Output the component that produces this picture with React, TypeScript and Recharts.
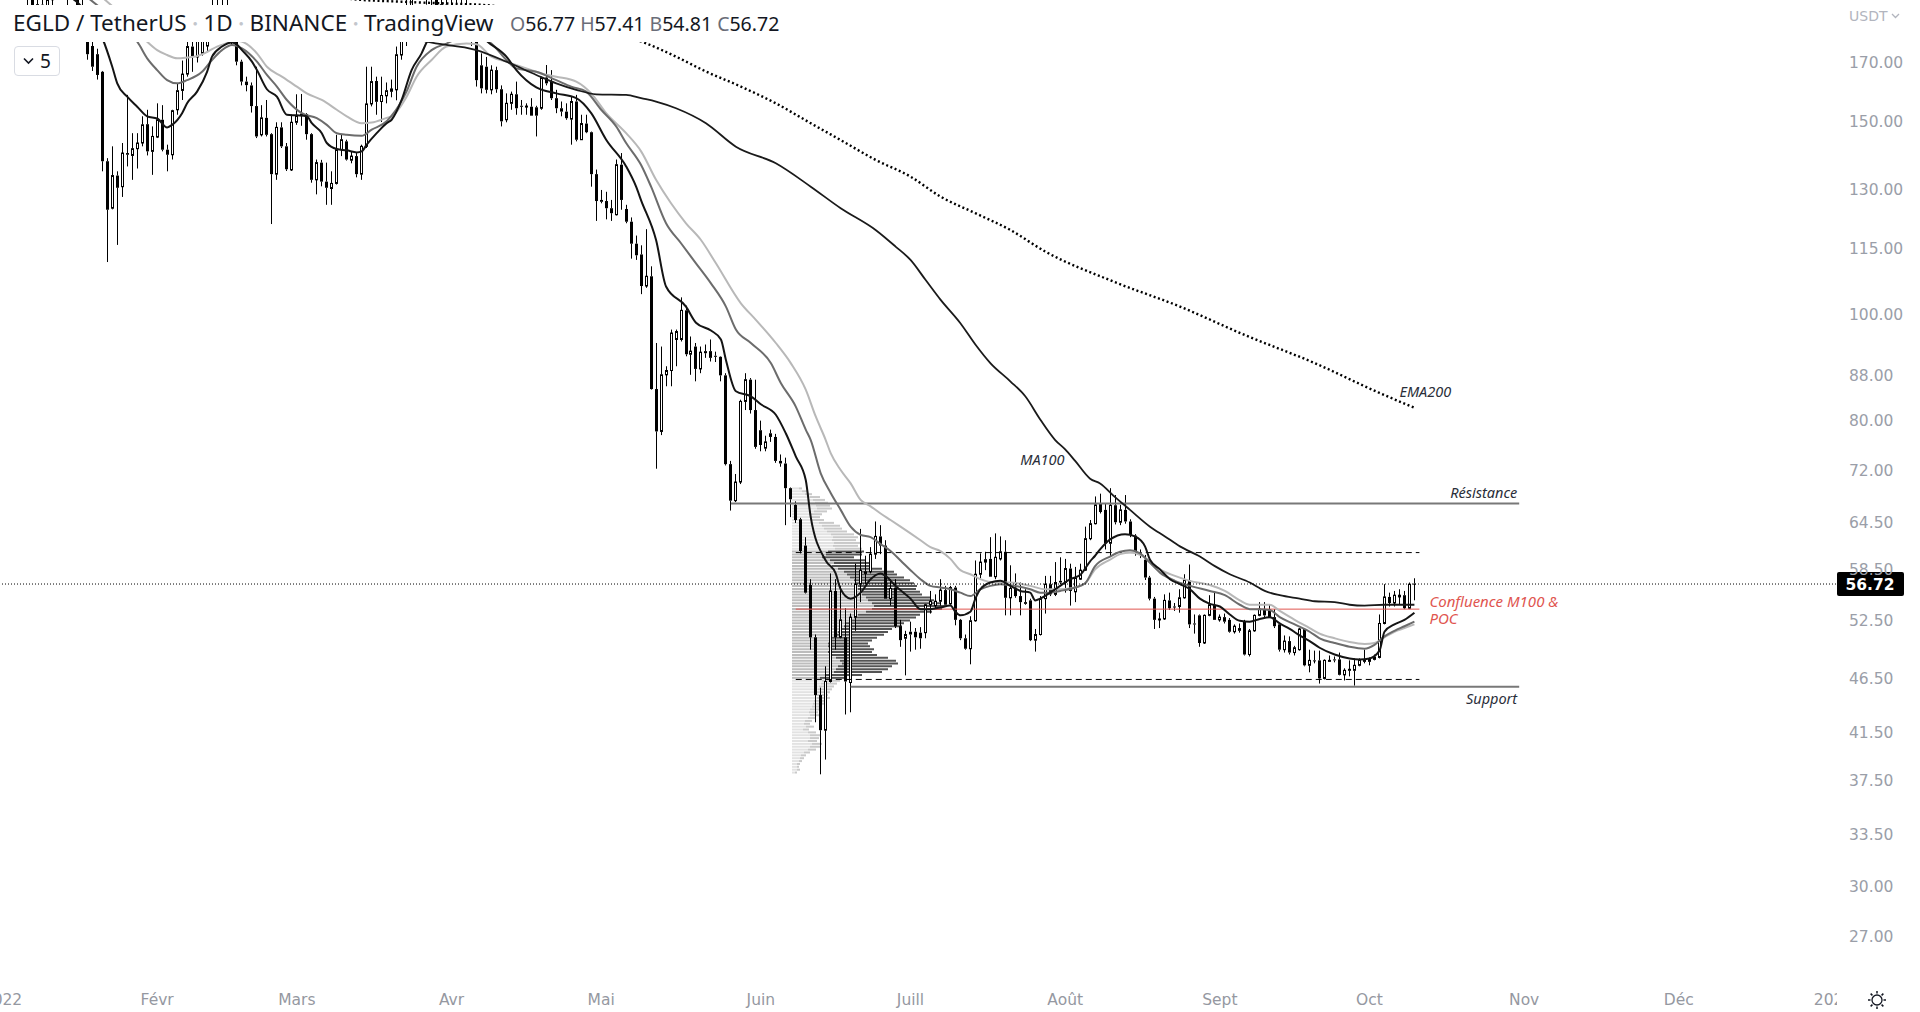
import React from "react";
import {
  Bar,
  BarChart,
  Cell,
  ComposedChart,
  Line,
  ReferenceDot,
  ReferenceLine,
  XAxis,
  YAxis
} from "recharts";

// daily candles, bar index 0 = first day on the time axis
const opens = [
  210, 218, 222, 214, 205, 200, 196, 188, 192, 189,
  194, 200, 206, 204, 197, 201, 190, 184, 176, 173,
  166.7, 138.1, 125.1, 134, 130.9, 140.5, 139.8, 141.8, 143.5, 149.3,
  141, 145.3, 150.7, 141.5, 140, 153.9, 160.3, 165.9, 175.8, 172,
  173.3, 176, 182, 190, 188, 186, 183, 180, 170.3, 163.3,
  162, 155.1, 146, 151.3, 146.2, 134.4, 148.3, 142.5, 135.6, 149.9,
  152.2, 152.5, 146.2, 132.8, 137.7, 132.3, 130.4, 131.8, 141.5, 144,
  138.4, 139.6, 134.4, 142.5, 155.8, 163.5, 156.6, 158.5, 160, 160.5,
  172.7, 178.5, 190, 200, 206, 202, 198, 194, 188, 192,
  190, 184, 190, 186, 182, 180, 169, 168.5, 160.5, 167.3,
  160.7, 150.7, 156, 159, 155.2, 154.9, 154.9, 154.7, 154.4, 164.7,
  163.3, 157.7, 154.4, 153.3, 150.9, 156.6, 144.5, 149.5, 146.8, 134.4,
  127.3, 127, 125.1, 123.4, 137.1, 124.9, 121.6, 116.1, 113.5, 106.2,
  108.4, 85.5, 78.2, 88.1, 88.9, 94.9, 94.9, 100.9, 92, 93.5,
  89.2, 92.6, 92.6, 91.7, 91.5, 88, 73, 67.6, 70.3, 83.3,
  87.2, 81.8, 78.4, 75.5, 77.9, 77.3, 73.5, 73.1, 69.4, 67,
  65, 61.5, 56.6, 50.7, 44.9, 41.7, 46.2, 55.9, 50.7, 50.7,
  46.1, 52.9, 56.7, 58, 58.2, 60.4, 62.7, 61.5, 55, 56.3,
  51.9, 50.6, 51.3, 51.3, 51.2, 51.2, 54.3, 54.2, 54.7, 56,
  54.4, 56.3, 52.6, 50.6, 49.5, 52.5, 57.9, 59.4, 59.8, 57.6,
  59.8, 60.7, 55.1, 56.3, 55.3, 54.6, 54.8, 50.4, 51, 55,
  56.7, 55.5, 57.1, 56.9, 58.6, 55.8, 57.3, 58.4, 62.4, 64.4,
  67.2, 66.3, 61.8, 66.95, 64.6, 66.3, 64.7, 62.8, 60.5, 59.7,
  57.5, 55, 52.6, 52.7, 54.8, 54.1, 54.1, 55.1, 57.2, 52.2,
  53.1, 50.1, 53.1, 54.3, 52.6, 52.9, 52.6, 51.3, 51.7, 52.4,
  48.9, 51.4, 53.1, 53.8, 53.8, 52.9, 52.1, 49.4, 50.3, 49.1,
  49.4, 51.6, 47.8, 48.3, 48.3, 46.5, 48.25, 48.4, 48.4, 46.85,
  47.3, 47.3, 47.8, 48.2, 48.2, 48.4, 48.6, 52.2, 55.2, 54.5,
  55.2, 55.4, 53.9, 56.77
];

const highs = [
  222, 226, 228, 218, 212, 206, 200, 196, 198, 197,
  205, 210, 214, 208, 206, 204, 196, 190, 180, 175,
  167, 139, 142.5, 135.2, 143.5, 158.8, 146.5, 146.5, 151.8, 153.9,
  148.6, 156, 155.4, 143, 153.9, 162.7, 170.7, 180, 180, 183,
  185, 188, 195, 198, 196, 194, 190, 186, 171, 165,
  163, 168.5, 155.4, 157.1, 146.5, 149.9, 149.9, 143.5, 152.3, 159,
  159.1, 152.8, 146.5, 138.6, 138.5, 137.7, 135.2, 146, 146, 144.5,
  141, 140.5, 143, 168.5, 168.5, 165, 165, 163, 164, 175.8,
  186, 196, 205, 212, 215, 210, 206, 200, 198, 200,
  196, 195, 197, 194, 189, 184, 173.3, 172, 169, 168.5,
  162, 159.3, 159.9, 163.3, 157.1, 156, 157.7, 155.2, 165, 169.1,
  167.3, 160.5, 156.6, 156, 158.2, 158.8, 152.3, 152.3, 147, 135.7,
  130, 129.5, 127.3, 138.6, 140.5, 126, 122.7, 118.1, 115.7, 119.7,
  110.7, 94.2, 93.5, 89.7, 96.9, 96.9, 103.7, 101.9, 95.5, 94.2,
  93.5, 93.9, 94.9, 92.5, 91.6, 88.4, 73.5, 71.5, 83.6, 88.4,
  87.5, 87.2, 80, 77.5, 78.5, 77.8, 74.5, 74, 69.5, 67.5,
  65.2, 62.6, 57.3, 51, 45.6, 47.7, 58, 57.3, 56.5, 53.9,
  53.3, 59.2, 63.7, 60.2, 61.3, 64.7, 64.2, 62.2, 57.3, 57.3,
  52.6, 51.4, 52.4, 51.7, 51.8, 54.4, 55.9, 55.5, 57.3, 56.5,
  56.5, 56.5, 52.7, 51, 53, 59.6, 60.5, 60.7, 62.6, 63.1,
  62.7, 62.2, 59, 58, 56.9, 56.1, 55, 51.6, 55.3, 57.7,
  57.7, 59.4, 60, 59.8, 59.2, 58.8, 59.2, 64, 64.9, 68.2,
  68.6, 67.2, 69.4, 68.4, 67, 68.4, 65, 63, 61, 60.3,
  57.7, 55.2, 53.4, 55.5, 55.7, 54.5, 56.1, 57.9, 59.1, 53.2,
  53.2, 53.2, 55.4, 55.7, 53.2, 53.3, 52.8, 52.1, 52.2, 52.6,
  51.6, 53.2, 54.6, 54.6, 54.3, 53.8, 52.2, 50.9, 50.8, 49.8,
  51.7, 51.7, 49.4, 49.3, 49.3, 48.4, 48.8, 48.7, 49.1, 47.5,
  48.3, 48.5, 48.5, 49.4, 48.6, 48.9, 53.2, 56.7, 55.7, 55.9,
  56.1, 55.9, 56.9, 57.41
];

const lows = [
  204, 212, 210, 200, 196, 190, 184, 182, 185, 183,
  190, 196, 199, 188, 194, 186, 180, 171, 167, 164,
  135.2, 111.7, 124.8, 115.8, 128.1, 136.6, 132.8, 136, 142.5, 139.8,
  134.2, 145, 141, 135.2, 138.6, 152.3, 157.1, 165, 166.7, 170,
  172.5, 174, 178, 184, 180, 179, 176, 169, 162, 160,
  153, 145, 145.5, 145.5, 121, 132.8, 142, 135.3, 135.3, 149.1,
  148.8, 144.5, 132, 128.8, 131, 126, 126, 131.5, 139.6, 138.3,
  137.5, 133.5, 132.8, 142, 155, 152.3, 150, 156, 158, 157,
  171, 176, 186, 195, 198, 192, 190, 184, 183, 185,
  180, 180, 182, 178, 176, 161.6, 159.3, 159.3, 159, 159.5,
  148.6, 149.9, 153.9, 152.3, 152.3, 152.3, 152, 145.5, 153.9, 162,
  157.1, 152.8, 151.8, 150.7, 143, 144, 144.5, 146.5, 130.9, 121.8,
  126.4, 122.2, 121.8, 123.2, 124.7, 121.2, 112.5, 112.2, 104.4, 105.8,
  85.4, 72.3, 77.6, 86, 86, 89.7, 94.5, 91.6, 88.1, 86.9,
  88.4, 91.3, 90.6, 90.5, 86.9, 72.8, 66.2, 67.4, 70, 81.8,
  81.2, 75.4, 75, 75, 76.5, 73.2, 72.6, 64.2, 65.3, 64.5,
  60.5, 55.6, 49.4, 42.4, 38, 39.2, 46.1, 49.4, 50.6, 43.1,
  43.3, 51.4, 54.6, 56.7, 58, 59.8, 60.4, 55, 54.2, 51.7,
  49.7, 46.8, 49.2, 49.4, 49.5, 50.6, 53.3, 53.9, 54.2, 54.2,
  54.3, 52, 50.4, 49.4, 47.9, 52.4, 57.4, 58.4, 57.6, 57.3,
  59.6, 53.1, 53.1, 55.1, 53.1, 54.3, 50.3, 49.2, 50.9, 53.3,
  55.3, 55.3, 56.7, 55.7, 54.2, 54.6, 57.2, 58.3, 62.2, 64.3,
  65.8, 61, 60.1, 64.3, 64.2, 64.4, 62.6, 60.2, 59.9, 57.2,
  54.8, 51.6, 51.7, 52.6, 53.7, 53.6, 53.4, 55, 51.7, 51.1,
  49.7, 50, 53, 52.6, 52.4, 52.2, 51.2, 51.1, 51.2, 48.8,
  48.7, 51.3, 53, 52.9, 52.8, 51.7, 49.2, 49.1, 48.9, 48.8,
  49.3, 47.7, 47.1, 48, 46, 46.4, 48.2, 48.1, 46.8, 46.3,
  46.7, 45.8, 47.7, 48, 47.8, 48.3, 48.5, 52.1, 54.1, 54.1,
  54.3, 53.8, 53.8, 54.81
];

const closes = [
  218, 222, 214, 205, 200, 196, 188, 192, 189, 194,
  200, 206, 204, 197, 201, 190, 184, 173, 168.5, 165.6,
  138.1, 124.7, 134, 130.6, 140.5, 140, 141.8, 143.5, 149.1, 141,
  145.5, 150.7, 141.5, 140, 153.6, 160.2, 165.9, 175.8, 172.1, 178,
  180, 182, 190, 188, 186, 183, 180, 170.3, 163.3, 162.1,
  155.1, 145.5, 151.3, 146, 134.4, 148.3, 142.5, 135.8, 149.9, 152,
  152.5, 146.2, 132.8, 137.7, 132.3, 130.6, 131.8, 141.5, 144.5, 138.6,
  139.6, 134.4, 142.5, 155.8, 163.3, 156.5, 158.6, 160.2, 160.8, 172.8,
  178.5, 190, 200, 206, 202, 198, 194, 188, 192, 190,
  184, 190, 186, 182, 180, 163.8, 161, 160.5, 167.3, 160.7,
  150.2, 156, 159, 154.4, 154.9, 155.1, 152, 152, 164.7, 162.7,
  157.7, 154.4, 153.3, 151.2, 156.6, 144.5, 149.5, 146.8, 134.4, 127,
  126.8, 125.1, 123.8, 137.1, 127.3, 121.6, 116.1, 113.3, 106.2, 108.4,
  85.5, 78.2, 88.1, 88.9, 96.2, 96.5, 100.9, 92, 92.6, 89.2,
  92.4, 92.2, 91.3, 91.5, 88, 73, 67.6, 70.3, 83.3, 87.2,
  81.8, 75.7, 76, 76.5, 77.3, 73.5, 73.1, 69.4, 67.8, 64.9,
  60.8, 55.7, 50.7, 44.9, 41.7, 46.2, 55.9, 50.7, 52.6, 46.2,
  52.9, 56.7, 58.4, 58.2, 60.4, 62.7, 61.5, 55, 56.2, 51.9,
  50.4, 51, 51, 50.7, 50.6, 54.3, 54.7, 54.7, 56, 54.3,
  56.3, 52.6, 50.6, 49.5, 52.5, 57.9, 59.4, 59.7, 57.6, 60,
  60.7, 55.1, 56.2, 55.3, 54.6, 54.4, 50.4, 51, 55, 56.7,
  55.5, 56.9, 56.9, 58.6, 55.9, 57.4, 58.4, 62.4, 64.4, 67,
  66, 61.8, 66.95, 64.6, 66.3, 64.7, 62.9, 60.5, 60.3, 57.5,
  55, 52.6, 52.7, 54.8, 53.9, 54, 55.1, 57.2, 52.1, 52.1,
  50.1, 53.1, 54.3, 52.6, 52.9, 52.4, 51.3, 51.9, 51.4, 48.9,
  51.4, 53.1, 53.8, 53.1, 52.9, 51.9, 49.4, 50.3, 49.1, 49.6,
  51.6, 47.8, 48.3, 48.25, 46.5, 48.3, 48.3, 48.3, 46.85, 47.3,
  47.4, 47.8, 48.3, 48.3, 48.4, 48.6, 52.2, 55.2, 54.5, 55.4,
  55.4, 53.9, 56.7, 56.72
];

// moving averages as [bar, price]
const fastMa: [number, number][] = [
  [5, 205], [10, 198], [15, 193], [18, 186], [20, 179], [22, 168.5], [23, 162.7], [25, 158.2],
  [27, 154.9], [29, 151.8], [31, 151.1], [33, 148.3], [34, 149.1], [36, 152.8], [37, 156], [39, 159.9],
  [41, 166.7], [42, 172.1], [44, 175.8], [46, 177.3], [47, 176.5], [48, 174.5], [50, 170.3], [51, 167.3],
  [53, 160.7], [55, 158.2], [57, 152.3], [59, 152.1], [61, 151.8], [62, 149.6], [64, 146.5], [65, 143.5],
  [67, 141.7], [69, 141.3], [71, 140.7], [72, 141], [73, 143], [75, 146.5], [77, 149.6], [78, 150.7],
  [80, 157.1], [82, 167.3], [84, 173.3], [85, 177.3], [88, 184], [91, 187], [94, 184], [97, 178],
  [101, 172.1], [103, 167.3], [107, 161.3], [111, 159.3], [115, 157.7], [118, 152.8], [121, 144.5], [125, 136.6],
  [127, 130.9], [128, 127.2], [131, 117], [133, 106.1], [137, 101.7], [139, 98.3], [142, 96.7], [144, 94.9],
  [145, 90.9], [147, 85.1], [150, 84.2], [152, 82.8], [155, 81], [157, 77.9], [159, 74.2], [161, 70.6],
  [162, 65.3], [165, 59.6], [167, 58], [168, 56.1], [170, 55], [172, 55.7], [174, 57.3], [176, 58],
  [177, 57.7], [179, 56.5], [182, 55], [184, 53.8], [186, 53.8], [188, 54], [190, 54.2], [191, 53.5],
  [192, 53.1], [194, 53.5], [195, 55], [196, 56.1], [198, 56.9], [200, 57.1], [202, 56.5], [204, 55.9],
  [206, 55.7], [207, 54.8], [208, 55], [210, 55.7], [212, 56.5], [214, 57.3], [216, 57.8], [218, 59.5],
  [219, 60.2], [220, 61], [222, 62.3], [225, 63], [227, 62.7], [229, 61.4], [230, 59.7], [232, 58.5],
  [234, 57.3], [236, 56.7], [238, 56.1], [240, 55], [242, 54.4], [244, 54.1], [246, 53.2], [248, 52.5],
  [250, 52.4], [252, 52.7], [254, 52.9], [256, 52.2], [258, 51.6], [260, 50.9], [262, 50.3], [264, 49.6],
  [267, 48.9], [270, 48.5], [272, 48.4], [274, 48.5], [276, 49.3], [277, 51.3], [279, 52.1], [281, 52.6],
  [283, 53.4]
];

const midMa: [number, number][] = [
  [10, 205], [15, 198], [20, 190], [24, 182], [27, 177.6], [29, 171.5], [31, 167.3], [33, 163.8],
  [35, 162.7], [37, 163.8], [40, 166.7], [42, 170.9], [44, 174.5], [46, 176.4], [48, 175.1], [51, 170.3],
  [53, 165.6], [55, 161.6], [57, 157.1], [60, 152.8], [63, 151.2], [65, 149.1], [67, 146.5], [69, 146],
  [72, 145.7], [74, 147.6], [77, 150.2], [78, 152], [81, 160], [83, 168.5], [86, 174.5], [89, 176.9],
  [92, 179], [95, 179], [98, 176.9], [101, 170.9], [103, 167.9], [107, 166.7], [111, 163.8], [114, 161.6],
  [117, 159.9], [120, 153.9], [123, 148.6], [125, 143.5], [128, 137], [130, 130.9], [133, 121.2], [136, 116.2],
  [139, 111.4], [142, 106.8], [145, 101.7], [147, 96.9], [150, 94.2], [154, 90.3], [156, 86.6], [159, 82.4],
  [161, 78.5], [162, 76.8], [164, 71.6], [166, 68.7], [168, 66.3], [170, 64], [172, 62.9], [174, 62.6],
  [176, 61.7], [178, 60.8], [180, 59.6], [182, 58.4], [184, 57.3], [186, 56.5], [188, 56.3], [190, 56.1],
  [192, 55.7], [194, 55.3], [196, 56.1], [198, 56.5], [200, 56.7], [203, 56.5], [206, 56.1], [208, 55.7],
  [210, 55.7], [212, 55.9], [215, 56.3], [217, 56.8], [219, 58.9], [222, 60.1], [224, 60.7], [226, 60.9],
  [228, 60.5], [230, 59.3], [232, 58.1], [235, 57.1], [238, 56.5], [242, 55.9], [245, 55.4], [248, 54.3],
  [250, 53.8], [252, 53.8], [254, 53.7], [256, 52.9], [259, 52.1], [262, 51.3], [264, 50.6], [267, 50.1],
  [270, 49.7], [273, 49.5], [275, 49.9], [277, 50.8], [279, 51.4], [281, 51.9], [283, 52.4]
];

const slowMa: [number, number][] = [
  [15, 205], [20, 195], [25, 186], [29, 177.6], [31, 174.5], [33, 172.7], [35, 171.5], [37, 171.8],
  [39, 172.3], [41, 173.8], [43, 175.8], [45, 177], [47, 178], [49, 176.7], [51, 173.3], [53, 168.5],
  [56, 165], [59, 161.6], [61, 159.3], [64, 157.1], [67, 153.9], [69, 151.8], [72, 149.6], [74, 149.8],
  [77, 151.3], [78, 151.8], [81, 158.2], [83, 165], [86, 170.9], [89, 175.8], [93, 176.9], [95, 176.7],
  [98, 172.1], [101, 170.3], [105, 167.9], [108, 166.1], [111, 165], [115, 163.3], [118, 159.3], [121, 152.8],
  [125, 146.5], [128, 141], [131, 132.8], [134, 126.4], [137, 121.2], [140, 117], [143, 111.4], [148, 102.4],
  [151, 98.9], [155, 94.2], [158, 90.3], [161, 85.4], [163, 80.7], [165, 76.8], [166, 74.7], [168, 72.1],
  [170, 70.1], [172, 67.7], [174, 66.8], [176, 65.8], [178, 64.9], [180, 64], [182, 63.1], [184, 62.2],
  [186, 61.3], [188, 60.8], [190, 59.8], [192, 58.4], [194, 57.9], [196, 57.3], [199, 56.9], [202, 56.9],
  [206, 56.5], [209, 56.1], [212, 56.1], [215, 56.3], [217, 56.8], [219, 58.5], [222, 59.7], [224, 60.4],
  [226, 60.6], [228, 60.3], [230, 59.5], [232, 58.5], [235, 57.7], [238, 57.1], [242, 56.6], [245, 55.9],
  [248, 54.8], [250, 54.3], [252, 54.3], [254, 54.3], [256, 53.6], [259, 52.6], [262, 51.7], [264, 51.1],
  [267, 50.6], [270, 50.2], [273, 50], [275, 50.1], [277, 50.7], [279, 51.3], [281, 51.7], [283, 52.1]
];

const ma100: [number, number][] = [
  [75, 182], [80, 180], [85, 177.6], [95, 174.5], [101, 170.3], [107, 165.6], [111, 162.7], [115, 160.5],
  [119, 159], [125, 158.8], [128, 157.7], [131, 156.6], [135, 154.4], [141, 149.6], [147, 142.4], [155, 137.5],
  [162, 130.9], [168, 125.1], [175, 119.5], [179, 115.4], [182, 112.2], [185, 107.6], [188, 103.2], [192, 98.2],
  [195, 93.9], [198, 90.3], [202, 86.9], [205, 84.2], [208, 80.2], [211, 76.8], [213, 75.3], [215, 73.5],
  [218, 70.8], [220, 70.1], [223, 68.1], [226, 66.3], [230, 64], [233, 62.7], [236, 61.4], [240, 60.1],
  [243, 58.9], [246, 57.9], [250, 56.9], [253, 55.9], [256, 55.4], [260, 55], [263, 54.7], [267, 54.6],
  [270, 54.3], [273, 54.2], [277, 54.3], [280, 54.3], [283, 54.3]
];

const ema200: [number, number][] = [
  [66, 195.5], [70, 194.3], [80, 193.2], [90, 192.4], [97, 191.8], [105, 189.2], [113, 185.6], [121, 181.5],
  [129, 177], [135, 172.1], [141, 166.8], [148, 161.6], [155, 156], [162, 149.6], [168, 144.4], [175, 138.5],
  [182, 133.7], [188, 128.2], [195, 123.8], [202, 119.5], [209, 114.2], [222, 107.5], [236, 101.7], [249, 95.8],
  [263, 90.3], [276, 84.8], [283, 82.2]
];

const priceTicks = [27, 30, 33.5, 37.5, 41.5, 46.5, 52.5, 58.5, 64.5, 72, 80, 88, 100, 115, 130, 150, 170];
const monthTickBars = [0, 31, 59, 90, 120, 152, 182, 213, 244, 274, 305, 336, 367];
const monthTickNames = ["2022", "Févr", "Mars", "Avr", "Mai", "Juin", "Juill", "Août", "Sept", "Oct", "Nov", "Déc", "2023"];

// drawn levels
const resistanceLevel = 67.2;
const valueAreaHigh = 60.6;
const pocLevel = 53.8;
const valueAreaLow = 46.4;
const supportLevel = 45.7;
const resistanceSpan = [146, 304];
const profileSpan = [159, 284];
const supportSpan = [170, 304];

// visible range volume profile, rows from top (≈71) to bottom (≈38)
const volUp = [
  7, 10, 13, 18, 21, 23, 24, 25, 22, 19,
  18, 20, 27, 30, 32, 35, 39, 41, 40, 42,
  41, 43, 36, 34, 30, 38, 42, 40, 46, 52,
  55, 58, 62, 64, 66, 66, 68, 70, 74, 76,
  80, 82, 80, 74, 66, 62, 58, 54, 52, 48,
  46, 44, 40, 38, 36, 36, 38, 36, 38, 44,
  48, 50, 46, 44, 42, 34, 28, 30, 29, 27,
  26, 25, 24, 25, 22, 21, 20, 18, 17, 18,
  16, 13, 12, 14, 11, 16, 18, 18, 16, 20,
  18, 16, 12, 9, 8, 7, 5, 5, 5, 3
];
const volDown = [
  3, 5, 7, 10, 12, 13, 14, 15, 13, 11,
  10, 12, 15, 18, 18, 20, 23, 25, 24, 26,
  25, 27, 36, 36, 32, 36, 38, 38, 44, 50,
  50, 54, 56, 58, 59, 58, 60, 60, 64, 66,
  68, 71, 70, 66, 62, 62, 60, 58, 58, 52,
  50, 48, 45, 42, 40, 42, 44, 44, 47, 52,
  56, 56, 54, 52, 48, 36, 27, 18, 16, 15,
  14, 13, 12, 13, 12, 11, 10, 10, 9, 9,
  8, 7, 6, 8, 6, 8, 10, 9, 9, 10,
  10, 8, 6, 5, 4, 3, 3, 2, 3, 2
];
const valueAreaRows = [22, 66];

const PRICE_MIN = 24.39;
const PRICE_MAX = 193.9;
const BAR_COUNT = 368;
const AXIS_FONT = "'DejaVu Sans', sans-serif";
const UI_FONT = "'Noto Sans', sans-serif";
const NOTE_RED = "#e0554f";

const toLookup = (pts: [number, number][]) => new Map(pts.map(([b, v]) => [b, v]));
const fastLookup = toLookup(fastMa);
const midLookup = toLookup(midMa);
const slowLookup = toLookup(slowMa);
const ma100Lookup = toLookup(ma100);
const ema200Lookup = toLookup(ema200);
const candleCount = Math.min(opens.length, highs.length, lows.length, closes.length);

const rows = Array.from({ length: BAR_COUNT }, (_, i) => ({
  bar: i,
  range: i < candleCount ? [lows[i], highs[i]] : null,
  open: opens[i],
  high: highs[i],
  low: lows[i],
  close: closes[i],
  fast: fastLookup.get(i) ?? null,
  mid: midLookup.get(i) ?? null,
  slow: slowLookup.get(i) ?? null,
  ma100: ma100Lookup.get(i) ?? null,
  ema200: ema200Lookup.get(i) ?? null
}));

const profileRows = volUp.map((up, i) => ({ row: i, up, down: volDown[i] }));
const inValueArea = (i: number) => i >= valueAreaRows[0] && i <= valueAreaRows[1];

const last = candleCount - 1;

const Candle = (props: any) => {
  const { x, y, width, height, payload } = props;
  if (!payload || payload.range == null) return <g />;
  const { open, close, high, low } = payload;
  const top = Math.min(y, y + height);
  const bottom = Math.max(y, y + height);
  const span = Math.log(high) - Math.log(low);
  const at = (p: number) => (span > 0 ? top + ((bottom - top) * (Math.log(high) - Math.log(p))) / span : top);
  const cx = Math.floor(x + width / 2) + 0.5;
  const yo = at(open);
  const yc = at(close);
  const bodyTop = Math.min(yo, yc);
  const bodyBottom = Math.max(yo, yc);
  const up = close >= open;
  return (
    <g>
      <line x1={cx} x2={cx} y1={top} y2={bodyTop} stroke="#000" strokeWidth={1} />
      <line x1={cx} x2={cx} y1={bodyBottom} y2={bottom} stroke="#000" strokeWidth={1} />
      {up ? (
        <rect x={cx - 1} y={bodyTop} width={2} height={Math.max(bodyBottom - bodyTop, 1)} fill="#fff" stroke="#000" strokeWidth={1} />
      ) : (
        <rect x={cx - 1.5} y={bodyTop} width={3} height={Math.max(bodyBottom - bodyTop, 1)} fill="#000" />
      )}
    </g>
  );
};

const MonthTick = (props: any) => {
  const { x, payload } = props;
  const idx = monthTickBars.indexOf(payload.value);
  return (
    <text x={x} y={1000} textAnchor="middle" dominantBaseline="central" fill="#9598a1" fontSize={15.5} fontFamily={AXIS_FONT}>
      {monthTickNames[idx]}
    </text>
  );
};

const Note = (props: any) => {
  const { viewBox, lines, color = "#2a2e39", dy = 0, alignEnd = false, size = 14.5, lineGap = 17 } = props;
  if (!viewBox) return null;
  const x = alignEnd ? viewBox.x + viewBox.width - 2 : viewBox.x;
  return (
    <text x={x} y={viewBox.y + dy} textAnchor={alignEnd ? "end" : "start"} fill={color} fontSize={size} fontStyle="italic" fontFamily={UI_FONT}>
      {lines.map((t: string, i: number) => (
        <tspan key={t} x={x} dy={i === 0 ? 0 : lineGap}>
          {t}
        </tspan>
      ))}
    </text>
  );
};

const PriceTag = (props: any) => {
  const { viewBox } = props;
  if (!viewBox) return null;
  const x = viewBox.x + viewBox.width + 1;
  const y = viewBox.y;
  return (
    <g>
      <rect x={x} y={y - 12} width={67} height={24} rx={2} fill="#000" />
      <text x={x + 33} y={y + 1} textAnchor="middle" dominantBaseline="central" fill="#fff" fontSize={15.5} fontWeight="bold" fontFamily={AXIS_FONT}>
        {closes[last].toFixed(2)}
      </text>
    </g>
  );
};

const Sep = () => <span style={{ color: "#c3c6cc", margin: "0 6px", fontSize: 8, lineHeight: 1 }}>●</span>;

const Gear = () => (
  <svg width={22} height={22} viewBox="0 0 22 22" style={{ position: "absolute", left: 1866, top: 989 }}>
    <circle cx={11} cy={11} r={5} fill="none" stroke="#131722" strokeWidth={1.3} />
    {[0, 45, 90, 135, 180, 225, 270, 315].map((a) => (
      <line
        key={a}
        x1={11 + 6.5 * Math.cos((a * Math.PI) / 180)}
        y1={11 + 6.5 * Math.sin((a * Math.PI) / 180)}
        x2={11 + 9 * Math.cos((a * Math.PI) / 180)}
        y2={11 + 9 * Math.sin((a * Math.PI) / 180)}
        stroke="#131722"
        strokeWidth={1.5}
      />
    ))}
  </svg>
);

export default function App() {
  return (
    <div style={{ position: "relative", width: 1920, height: 1012, background: "#fff", overflow: "hidden" }}>
      <style>{"body{margin:0;}"}</style>

      <div style={{ position: "absolute", left: 792, top: 486.7, width: 170, height: 287, zIndex: 0 }}>
        <BarChart width={170} height={287} data={profileRows} layout="vertical" margin={{ top: 0, right: 0, bottom: 0, left: 0 }} barCategoryGap="15%">
          <XAxis type="number" domain={[0, 170]} hide />
          <YAxis type="category" dataKey="row" hide />
          <Bar dataKey="up" stackId="vp" isAnimationActive={false}>
            {profileRows.map((r) => (
              <Cell key={`u${r.row}`} fill={inValueArea(r.row) ? "#bdbdbd" : "#e2e2e2"} />
            ))}
          </Bar>
          <Bar dataKey="down" stackId="vp" isAnimationActive={false}>
            {profileRows.map((r) => (
              <Cell key={`d${r.row}`} fill={inValueArea(r.row) ? "#545454" : "#c9c9c9"} />
            ))}
          </Bar>
        </BarChart>
      </div>

      <div style={{ position: "absolute", left: 0, top: 0, zIndex: 1 }}>
        <ComposedChart width={1920} height={1012} data={rows} margin={{ top: 0, right: 0, bottom: 0, left: 0 }}>
          <XAxis
            dataKey="bar"
            type="category"
            ticks={monthTickBars}
            interval={0}
            height={27}
            axisLine={false}
            tickLine={false}
            tick={<MonthTick />}
          />
          <YAxis
            orientation="right"
            type="number"
            scale="log"
            domain={[PRICE_MIN, PRICE_MAX]}
            allowDataOverflow
            ticks={priceTicks}
            interval={0}
            tickFormatter={(v: number) => v.toFixed(2)}
            width={84}
            axisLine={false}
            tickLine={false}
            tickMargin={7}
            tick={{ fill: "#9a9ea8", fontSize: 15.5, fontFamily: AXIS_FONT }}
          />

          <ReferenceLine
            segment={[{ x: resistanceSpan[0], y: resistanceLevel }, { x: resistanceSpan[1], y: resistanceLevel }]}
            stroke="#787878"
            strokeWidth={2}
            label={<Note lines={["Résistance"]} alignEnd dy={-5} />}
          />
          <ReferenceLine
            segment={[{ x: supportSpan[0], y: supportLevel }, { x: supportSpan[1], y: supportLevel }]}
            stroke="#787878"
            strokeWidth={2}
            label={<Note lines={["Support"]} alignEnd dy={17} />}
          />
          <ReferenceLine
            segment={[{ x: profileSpan[0], y: valueAreaHigh }, { x: profileSpan[1], y: valueAreaHigh }]}
            stroke="#000"
            strokeWidth={1}
            strokeDasharray="6 4"
          />
          <ReferenceLine
            segment={[{ x: profileSpan[0], y: valueAreaLow }, { x: profileSpan[1], y: valueAreaLow }]}
            stroke="#000"
            strokeWidth={1}
            strokeDasharray="6 4"
          />
          <ReferenceLine
            segment={[{ x: profileSpan[0], y: pocLevel }, { x: profileSpan[1], y: pocLevel }]}
            stroke={NOTE_RED}
            strokeWidth={1}
          />

          <Bar dataKey="range" isAnimationActive={false} shape={(p: any) => <Candle {...p} />} />

          <Line dataKey="slow" type="monotone" stroke="#b8b8b8" strokeWidth={2} dot={false} activeDot={false} connectNulls isAnimationActive={false} />
          <Line dataKey="mid" type="monotone" stroke="#6c6c6c" strokeWidth={2} dot={false} activeDot={false} connectNulls isAnimationActive={false} />
          <Line dataKey="fast" type="monotone" stroke="#141414" strokeWidth={2} dot={false} activeDot={false} connectNulls isAnimationActive={false} />
          <Line dataKey="ma100" type="monotone" stroke="#1a1a1a" strokeWidth={1.8} dot={false} activeDot={false} connectNulls isAnimationActive={false} />
          <Line dataKey="ema200" type="monotone" stroke="#000" strokeWidth={2.4} strokeDasharray="2 2.6" dot={false} activeDot={false} connectNulls isAnimationActive={false} />

          <ReferenceLine y={closes[last]} stroke="#000" strokeWidth={1} strokeDasharray="1 2" label={<PriceTag />} />

          <ReferenceDot x={204} y={72.9} r={0} fill="none" stroke="none" label={<Note lines={["MA100"]} />} />
          <ReferenceDot x={280} y={84.1} r={0} fill="none" stroke="none" label={<Note lines={["EMA200"]} />} />
          <ReferenceDot x={286} y={54.05} r={0} fill="none" stroke="none" label={<Note lines={["Confluence M100 &", "POC"]} color={NOTE_RED} size={15} lineGap={17} />} />
        </ComposedChart>
      </div>

      <div
        style={{
          position: "absolute",
          left: 8,
          top: 5,
          width: 782,
          height: 37,
          background: "#fff",
          zIndex: 2,
          fontFamily: UI_FONT,
          whiteSpace: "nowrap"
        }}
      >
        <div style={{ position: "absolute", left: 5, top: 2, fontSize: 22.5, color: "#131722", display: "flex", alignItems: "center" }}>
          EGLD / TetherUS<Sep />1D<Sep />BINANCE<Sep />TradingView
        </div>
        <div style={{ position: "absolute", left: 502, top: 5, fontSize: 19.5, color: "#131722" }}>
          <span style={{ color: "#6a6d78" }}>O</span>{opens[last].toFixed(2)}{" "}
          <span style={{ color: "#6a6d78" }}>H</span>{highs[last].toFixed(2)}{" "}
          <span style={{ color: "#6a6d78" }}>B</span>{lows[last].toFixed(2)}{" "}
          <span style={{ color: "#6a6d78" }}>C</span>{closes[last].toFixed(2)}
        </div>
      </div>

      <div
        style={{
          position: "absolute",
          left: 14,
          top: 46,
          width: 44,
          height: 28,
          border: "1px solid #d9dce3",
          borderRadius: 4,
          background: "#fff",
          zIndex: 2,
          display: "flex",
          alignItems: "center",
          justifyContent: "center",
          gap: 6,
          fontFamily: UI_FONT,
          fontSize: 19,
          color: "#131722"
        }}
      >
        <svg width={11} height={8} viewBox="0 0 11 8">
          <path d="M1 1.5 L5.5 6 L10 1.5" fill="none" stroke="#131722" strokeWidth={1.6} />
        </svg>
        <span>5</span>
      </div>

      <div style={{ position: "absolute", left: 1849, top: 8, zIndex: 2, fontFamily: AXIS_FONT, fontSize: 14, color: "#b2b5be", display: "flex", alignItems: "center", gap: 4 }}>
        USDT
        <svg width={9} height={6} viewBox="0 0 9 6">
          <path d="M1 1 L4.5 4.5 L8 1" fill="none" stroke="#b2b5be" strokeWidth={1.3} />
        </svg>
      </div>

      <div style={{ position: "absolute", left: 1837, top: 986, width: 83, height: 26, background: "#fff", zIndex: 2 }} />
      <div style={{ zIndex: 3, position: "absolute", left: 0, top: 0 }}>
        <Gear />
      </div>
    </div>
  );
}
